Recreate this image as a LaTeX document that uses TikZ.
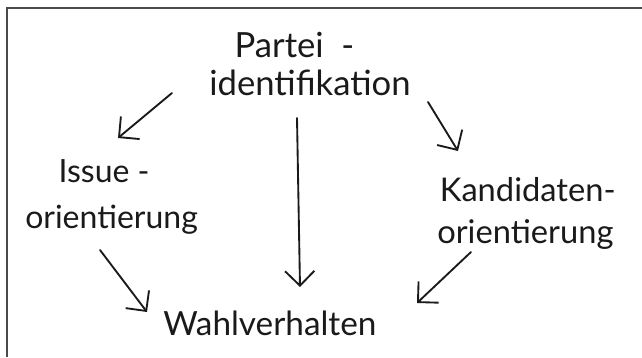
\documentclass[tikz,border=0pt]{standalone}
\usepackage{fontspec}
\setmainfont{Lato}
\usetikzlibrary{arrows.meta}
\definecolor{ink}{HTML}{1A1A1A}
\definecolor{framegray}{HTML}{4A4A4A}
\tikzset{
  label/.style={anchor=base west, inner sep=0pt, align=left, text=ink,
    font=\fontsize{24}{33}\selectfont},
  arr/.style={draw=ink, line width=1.4pt, line cap=round, line join=round,
    -{Straight Barb[length=11pt,width=22pt,line width=1.4pt]}},
  frame/.style={draw=framegray, line width=1.3pt}
}
\begin{document}
\begin{tikzpicture}[x=0.75pt, y=-0.75pt]
  \useasboundingbox (0,0) rectangle (642,357);
  % page edge
  \draw[frame] (642,8) -- (7,8) -- (7,357);

  % labels (anchored at the baseline of their last line)
  \node[label, font=\fontsize{26}{28}\selectfont] (pid) at (209,95)
    {\hspace*{19pt}Partei\ \ -\\identifikation};
  \node[label, font=\fontsize{24}{34}\selectfont] (issue) at (25,228)
    {\hspace*{25pt}Issue -\\orientierung};
  \node[label, font=\fontsize{24.5}{31.5}\selectfont] (kand) at (437,243)
    {\hspace*{2pt}Kandidaten-\\orientierung};
  \node[label, font=\fontsize{25}{30}\selectfont] (wahl) at (163,335) {Wahlverhalten};

  % influences
  \draw[arr] ([shift={(-37,-2)}]pid.base west) -- ([shift={(93,-90)}]issue.base west);
  \draw[arr] ([shift={(219,7)}]pid.base west) -- ([shift={(21,-92)}]kand.base west);
  \draw[arr] ([shift={(88,23)}]pid.base west) -- ([shift={(137,-48)}]wahl.base west);
  \draw[arr] ([shift={(75,22)}]issue.base west) -- ([shift={(-16,-23)}]wahl.base west);
  \draw[arr] ([shift={(34,9)}]kand.base west) -- ([shift={(254,-32)}]wahl.base west);
\end{tikzpicture}
\end{document}
